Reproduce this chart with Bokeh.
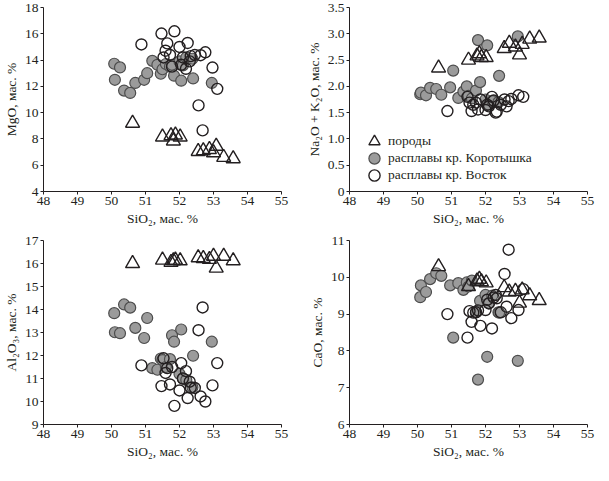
from bokeh.layouts import gridplot
from bokeh.models import FixedTicker, Legend, LegendItem, Range1d
from bokeh.plotting import figure
from bokeh.embed import file_html
from bokeh.resources import INLINE

# породы (triangles)
tri_sio2 = [50.62, 51.50, 51.75, 51.82, 51.88, 52.02, 52.55, 52.70, 52.88, 53.00, 53.08, 53.30, 53.58]
tri_mgo = [9.2, 8.15, 8.25, 7.85, 8.3, 8.15, 7.05, 7.1, 7.2, 6.95, 7.45, 6.6, 6.5]
tri_alk = [2.35, 2.5, 2.58, 2.62, 2.55, 2.55, 2.72, 2.82, 2.75, 2.6, 2.8, 2.9, 2.92]
tri_al2o3 = [16.0, 16.15, 16.05, 16.12, 16.15, 16.12, 16.25, 16.22, 16.18, 16.32, 15.8, 16.32, 16.12]
tri_cao = [10.29, 9.75, 9.9, 9.95, 9.88, 9.85, 9.72, 9.6, 9.62, 9.3, 9.66, 9.5, 9.37]

# расплавы кр. Коротышка (grey circles)
kor_sio2 = [50.08, 50.10, 50.25, 50.37, 50.55, 50.70, 50.96, 51.05, 51.20, 51.35, 51.45, 51.50,
            51.60, 51.72, 51.78, 51.84, 52.00, 52.05, 52.10, 52.20, 52.38, 52.40, 52.95]
kor_mgo = [13.72, 12.5, 13.44, 11.68, 11.5, 12.26, 12.5, 13.0, 13.94, 13.64, 12.96, 13.3,
           13.7, 13.5, 13.64, 12.81, 13.9, 12.43, 13.6, 14.2, 14.1, 12.6, 12.26]
kor_alk = [1.85, 1.88, 1.83, 1.97, 1.95, 1.84, 1.98, 2.3, 1.78, 1.9, 2.0, 1.82,
           1.77, 1.92, 2.88, 2.08, 1.75, 2.78, 1.65, 1.72, 1.7, 2.2, 2.95]
kor_al2o3 = [13.84, 13.01, 12.97, 14.22, 14.08, 13.2, 12.76, 13.63, 11.45, 11.38, 11.87, 11.8,
             11.5, 11.84, 12.88, 12.6, 11.2, 13.13, 11.0, 10.94, 10.62, 11.99, 12.6]
kor_cao = [9.46, 9.78, 9.6, 9.95, 10.11, 10.04, 9.78, 8.36, 9.84, 9.66, 9.86, 9.75,
           9.91, 9.05, 7.22, 9.36, 9.52, 7.84, 9.3, 9.5, 9.05, 9.04, 7.73]

# расплавы кр. Восток (open circles)
vos_sio2 = [50.88, 51.47, 51.53, 51.59, 51.64, 51.72, 51.78, 51.85, 52.00, 52.05, 52.10,
            52.19, 52.24, 52.30, 52.33, 52.45, 52.56, 52.62, 52.68, 52.76, 52.97, 53.11]
vos_mgo = [15.19, 16.02, 14.2, 14.71, 15.27, 14.39, 13.5, 16.19, 15.0, 13.64, 14.2,
           13.34, 15.3, 13.9, 14.3, 14.39, 10.55, 14.37, 8.65, 14.59, 13.43, 11.81]
vos_alk = [1.53, 1.8, 1.69, 1.53, 1.65, 1.69, 1.56, 1.75, 1.55, 1.65, 1.62,
           1.8, 1.73, 1.5, 1.52, 1.65, 1.75, 1.62, 1.72, 1.76, 1.83, 1.8]
vos_al2o3 = [11.57, 10.67, 11.88, 11.24, 11.45, 10.74, 11.5, 9.81, 10.48, 11.67, 11.0,
             11.32, 10.15, 10.86, 10.6, 10.59, 13.1, 10.22, 14.09, 10.0, 10.7, 11.67]
vos_cao = [9.0, 8.36, 9.08, 8.79, 9.04, 9.05, 9.1, 8.68, 9.11, 9.39, 9.29,
           8.61, 9.45, 9.52, 9.43, 9.05, 10.09, 9.2, 10.75, 8.89, 9.11, 9.68]

x_ticks = [48, 49, 50, 51, 52, 53, 54, 55]
mgo_ticks = [4, 6, 8, 10, 12, 14, 16, 18]
alk_ticks = [0, 0.5, 1.0, 1.5, 2.0, 2.5, 3.0, 3.5]
alk_labels = ["0", "0.5", "1.0", "1.5", "2.0", "2.5", "3.0", "3.5"]
al2o3_ticks = [9, 10, 11, 12, 13, 14, 15, 16, 17]
cao_ticks = [6, 7, 8, 9, 10, 11]

FONT = "Liberation Serif"
INK = "#231f20"


def make_panel(ticks, ylabel, tri_y, kor_y, vos_y, left, top, labels=None, legend=False):
    p = figure(frame_width=238, frame_height=184, output_backend="svg",
               toolbar_location=None, tools="",
               x_range=Range1d(48, 55), y_range=Range1d(ticks[0], ticks[-1]),
               min_border_left=36 if left else 46, min_border_right=22 if left else 12,
               min_border_top=7 if top else 8, min_border_bottom=41)
    p.outline_line_color = None
    p.grid.visible = False
    p.background_fill_color = None
    p.border_fill_color = None

    p.xaxis.ticker = FixedTicker(ticks=x_ticks)
    p.yaxis.ticker = FixedTicker(ticks=ticks)
    if labels:
        p.yaxis.major_label_overrides = dict(zip(ticks, labels))
    p.xaxis.axis_label = "SiO₂, мас. %"
    p.yaxis.axis_label = ylabel
    for ax in (p.xaxis, p.yaxis):
        ax.axis_line_color = INK
        ax.major_tick_line_color = INK
        ax.minor_tick_line_color = None
        ax.major_tick_out = 3
        ax.major_tick_in = 0
        ax.major_label_standoff = 2
        ax.axis_label_standoff = 3
        ax.major_label_text_font = FONT
        ax.major_label_text_font_size = "13.5px"
        ax.major_label_text_color = INK
        ax.axis_label_text_font = FONT
        ax.axis_label_text_font_size = "13.5px"
        ax.axis_label_text_font_style = "normal"
        ax.axis_label_text_color = INK

    r_kor = p.scatter(kor_sio2, kor_y, marker="circle", size=11, fill_color="#9b9b9b",
                      line_color="#4d4d4d", line_width=1.2)
    r_vos = p.scatter(vos_sio2, vos_y, marker="circle", size=11, fill_color=None,
                      line_color=INK, line_width=1.4)
    r_tri = p.scatter(tri_sio2, tri_y, marker="triangle", size=14, fill_color=None,
                      line_color=INK, line_width=1.4)

    if legend:
        # one legend per row: legend markers are 0.4 of the glyph box,
        # so the box is big and rows are placed 17px apart
        entries = [("породы", r_tri, 36), ("расплавы кр. Коротышка", r_kor, 19),
                   ("расплавы кр. Восток", r_vos, 2)]
        for label, r, y in entries:
            lg = Legend(items=[LegendItem(label=label, renderers=[r])],
                        location=(11, y), padding=0, margin=0, spacing=0,
                        glyph_width=28, glyph_height=28, label_height=28, label_standoff=0,
                        label_text_font=FONT, label_text_font_size="13.5px",
                        label_text_color=INK, border_line_color=None,
                        background_fill_alpha=0)
            p.add_layout(lg)
    return p


p1 = make_panel(mgo_ticks, "MgO, мас. %", tri_mgo, kor_mgo, vos_mgo, True, True)
p2 = make_panel(alk_ticks, "Na₂O + K₂O, мас. %", tri_alk, kor_alk, vos_alk, False, True,
                labels=alk_labels, legend=True)
p3 = make_panel(al2o3_ticks, "Al₂O₃, мас. %", tri_al2o3, kor_al2o3, vos_al2o3, True, False)
p4 = make_panel(cao_ticks, "CaO, мас. %", tri_cao, kor_cao, vos_cao, False, False)

p = gridplot([[p1, p2], [p3, p4]], toolbar_location=None)

open("out.html", "w").write(file_html(p, INLINE))
